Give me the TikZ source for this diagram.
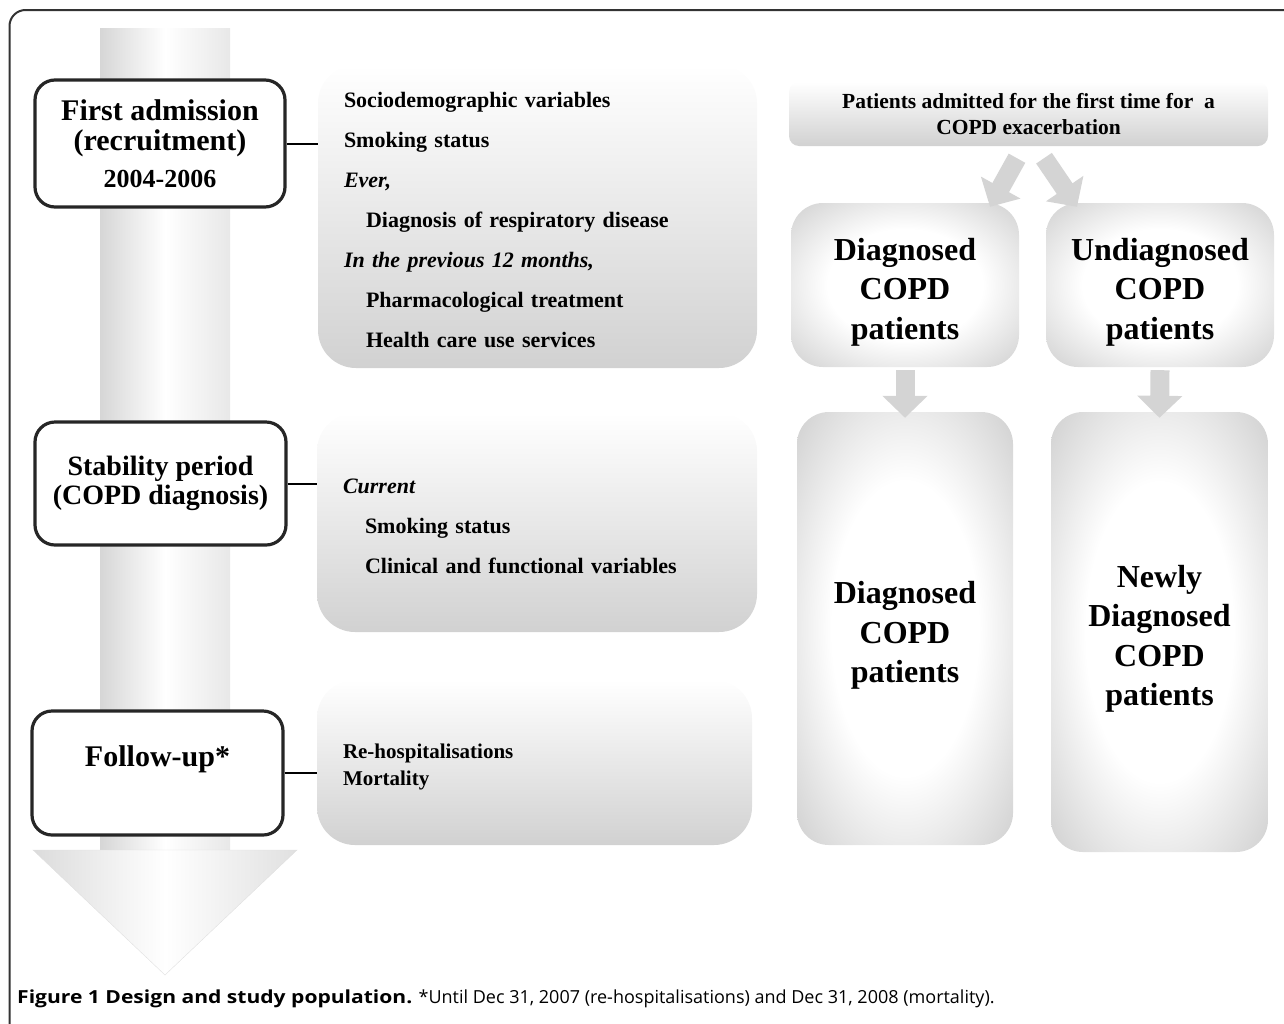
\documentclass[tikz,border=0pt]{standalone}
\usepackage{fontspec}
\setmainfont{Liberation Serif}
\newfontfamily\figcapfont[BoldFeatures={FakeStretch=1.17}]{Open Sans}
\usetikzlibrary{arrows.meta}
\definecolor{glowgray}{gray}{0.67}
\definecolor{arrowgray}{gray}{0.83}
\definecolor{panelgray}{gray}{0.82}
\pgfdeclareradialshading{boxglow}{\pgfpoint{0bp}{0bp}}{color(0bp)=(white); color(17bp)=(white); color(50bp)=(glowgray)}
\tikzset{
  stagebox/.style={draw=black!85, line width=3.2pt, rounded corners=20pt, fill=white, align=center, inner sep=0pt},
  infobox/.style={rounded corners=38pt, top color=white, bottom color=panelgray, align=left, inner xsep=26pt, inner ysep=0pt, font=\bfseries\fontsize{22}{40}\selectfont, execute at begin node=\rule{0pt}{23pt}},
  headbox/.style={rounded corners=10pt, top color=white, bottom color=panelgray, align=center, inner sep=0pt, font=\bfseries\fontsize{21.5}{26}\selectfont},
  groupbox/.style={rounded corners=32pt, shade, shading=boxglow, align=center, text width=200pt, inner sep=0pt, font=\bfseries\fontsize{32}{39.5}\selectfont, execute at begin node=\rule{0pt}{36pt}},
  linkline/.style={draw=black, line width=2pt},
  flowarrow/.style={draw=arrowgray, line width=19pt, -{Triangle[length=22pt,width=44pt]}}
}
\begin{document}
\begin{tikzpicture}[x=1pt,y=-1pt]
    \useasboundingbox (0,0) rectangle (1284,1023);
    \draw[line width=2pt, draw=black!80, rounded corners=16pt] (9.5,10) rectangle (1320,1060);
    \shade[left color=black!16, right color=black!9, middle color=white] (100,28) rectangle (230,850);
    \shade[draw=black!12, left color=black!14, right color=black!12, middle color=white] (33,850) -- (297,850) -- (165,975) -- cycle;

    \node[stagebox, minimum width=250pt, minimum height=127pt, font=\bfseries\fontsize{30}{30}\selectfont] (adm) at (160,143.5)
        {First admission\\(recruitment)\\[7pt]{\fontsize{26}{26}\selectfont 2004-2006}};
    \node[stagebox, minimum width=251pt, minimum height=123pt, font=\bfseries\fontsize{28}{29}\selectfont] (stab) at (160.5,483.5)
        {Stability period\\(COPD diagnosis)};
    \node[stagebox, minimum width=251pt, minimum height=124pt, font=\bfseries\fontsize{30}{30}\selectfont] (fol) at (157.5,773)
        {Follow-up*\\[-6pt]\strut};

    \node[infobox, text width=387pt, minimum height=303pt] (info1) at (537.5,216.5)
        {Sociodemographic variables\\Smoking status\\\textit{Ever,}\\\hspace*{22pt}Diagnosis of respiratory disease\\\textit{In the previous 12 months,}\\\hspace*{22pt}Pharmacological treatment\\\hspace*{22pt}Health care use services};
    \node[infobox, text width=388pt, minimum height=219pt] (info2) at (537,522.5)
        {\textit{Current}\\\hspace*{22pt}Smoking status\\\hspace*{22pt}Clinical and functional variables};
    \node[infobox, text width=383pt, minimum height=165pt, font=\bfseries\fontsize{21}{27}\selectfont] (info3) at (534.5,762.5)
        {Re-hospitalisations\\Mortality};

    \draw[linkline] (adm.east) -- (adm.east -| info1.west);
    \draw[linkline] (stab.east) -- (stab.east -| info2.west);
    \draw[linkline] (fol.east) -- (fol.east -| info3.west);

    \node[headbox, minimum width=479pt, minimum height=64pt] (top) at (1028.5,114)
        {Patients admitted for the first time for\ \ a\\COPD exacerbation};
    \node[groupbox, minimum width=228pt, minimum height=164pt] (d1) at (905,285) {Diagnosed\\COPD\\patients};
    \node[groupbox, minimum width=228pt, minimum height=164pt] (u1) at (1160,285) {Undiagnosed\\COPD\\patients};
    \node[groupbox, minimum width=216pt, minimum height=433pt] (d2) at (905,628.5) {Diagnosed\\COPD\\patients};
    \node[groupbox, minimum width=217pt, minimum height=440pt] (n2) at (1159.5,632) {Newly\\Diagnosed\\COPD\\patients};

    \draw[flowarrow] ([xshift=-11.5pt,yshift=-12pt]top.south) -- ([xshift=85pt,yshift=-4pt]d1.north);
    \draw[flowarrow] ([xshift=15.5pt,yshift=-12pt]top.south) -- ([xshift=-83pt,yshift=-4pt]u1.north);
    \foreach \src/\dst in {d1/d2, u1/n2}
        \draw[flowarrow] ([yshift=-3pt]\src.south) -- ([yshift=-6pt]\dst.north);

    \node[anchor=base west, inner sep=0pt, font=\figcapfont\fontsize{18}{20}\selectfont] (caption) at (17,1003)
        {\textbf{Figure 1 Design and study population.} *Until Dec 31, 2007 (re-hospitalisations) and Dec 31, 2008 (mortality).};
\end{tikzpicture}
\end{document}
